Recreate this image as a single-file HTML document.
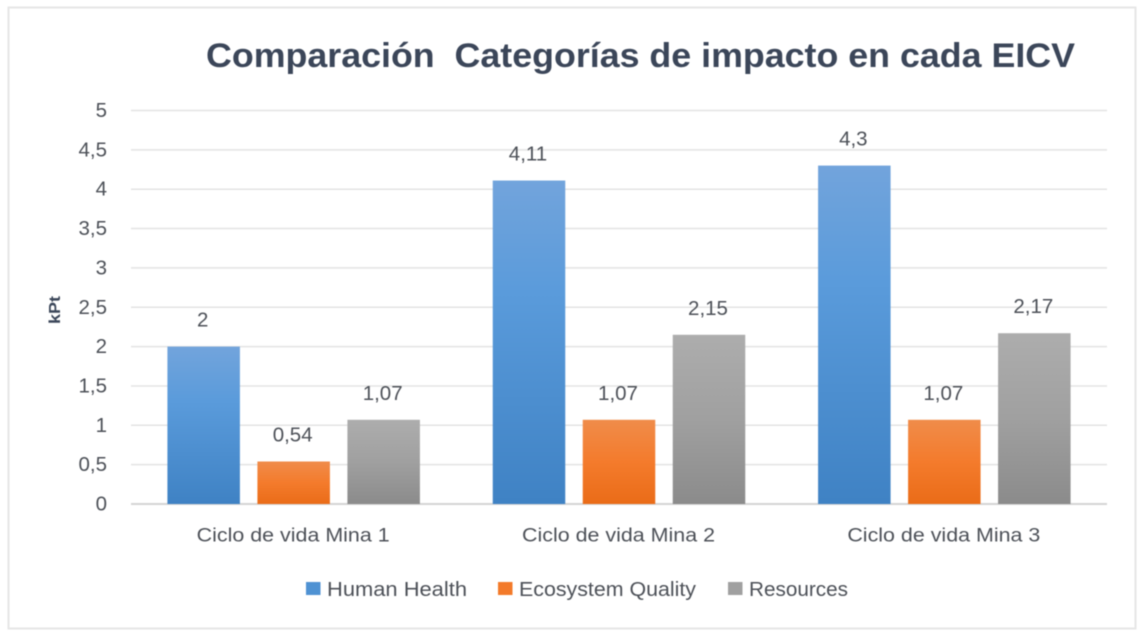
<!DOCTYPE html>
<html lang="es">
<head>
<meta charset="utf-8">
<title>Comparación Categorías de impacto en cada EICV</title>
<style>
html,body{margin:0;padding:0;background:#fff;width:1144px;height:634px;overflow:hidden}
svg{display:block;filter:blur(.6px)}
text{font-family:"Liberation Sans",sans-serif}
</style>
</head>
<body>
<svg id="chart" width="1144" height="634" viewBox="0 0 1144 634" xmlns="http://www.w3.org/2000/svg">
  <defs>
    <linearGradient id="grad-blue" x1="0" y1="0" x2="0" y2="1">
      <stop offset="0" stop-color="#72a4dc"/><stop offset=".35" stop-color="#5a9bdb"/><stop offset="1" stop-color="#3f82c4"/>
    </linearGradient>
    <linearGradient id="grad-orange" x1="0" y1="0" x2="0" y2="1">
      <stop offset="0" stop-color="#f08c4a"/><stop offset=".5" stop-color="#f47b2c"/><stop offset="1" stop-color="#ea6c18"/>
    </linearGradient>
    <linearGradient id="grad-gray" x1="0" y1="0" x2="0" y2="1">
      <stop offset="0" stop-color="#adadad"/><stop offset=".5" stop-color="#a0a0a0"/><stop offset="1" stop-color="#8b8b8b"/>
    </linearGradient>
  </defs>
  <rect x="8.5" y="7.5" width="1127" height="621" fill="#fff" stroke="#e6e6e6" stroke-width="2"/>
  <text x="206" y="67" font-size="34" font-weight="700" fill="#3b4659" textLength="869" lengthAdjust="spacingAndGlyphs" xml:space="preserve">Comparación  Categorías de impacto en cada EICV</text>
  <g id="grid"></g>
  <g id="y-ticks"></g>
  <text transform="translate(60,310) rotate(-90)" text-anchor="middle" font-size="16" font-weight="700" fill="#3b4659" textLength="28" lengthAdjust="spacingAndGlyphs">kPt</text>
  <g id="bars"></g>
  <g id="x-labels"></g>
  <g id="legend"></g>
</svg>
<script>
const categories = ["Ciclo de vida Mina 1", "Ciclo de vida Mina 2", "Ciclo de vida Mina 3"];
const humanHealth = [2, 4.11, 4.3];
const ecosystemQuality = [0.54, 1.07, 1.07];
const resources = [1.07, 2.15, 2.17];
const humanHealthLabels = ["2", "4,11", "4,3"];
const ecosystemQualityLabels = ["0,54", "1,07", "1,07"];
const resourcesLabels = ["1,07", "2,15", "2,17"];
const yTicks = [0, 0.5, 1, 1.5, 2, 2.5, 3, 3.5, 4, 4.5, 5];
const yTickLabels = ["0", "0,5", "1", "1,5", "2", "2,5", "3", "3,5", "4", "4,5", "5"];
const seriesNames = ["Human Health", "Ecosystem Quality", "Resources"];

const NS = "http://www.w3.org/2000/svg";
const plotLeft = 131, plotRight = 1107, plotTop = 110.5, plotBottom = 504, yMax = 5;
const barWidth = 72.5, barStep = 90;
const fills = ["url(#grad-blue)", "url(#grad-orange)", "url(#grad-gray)"];
const swatches = ["#4f92d3", "#f37a2a", "#a0a0a0"];
const series = [humanHealth, ecosystemQuality, resources];
const seriesLabels = [humanHealthLabels, ecosystemQualityLabels, resourcesLabels];
const textColor = "#4d5158";

function yScale(v) { return plotBottom - (v / yMax) * (plotBottom - plotTop); }
function xCenter(i) { return plotLeft + (plotRight - plotLeft) / categories.length * (i + 0.5); }
function make(tag, attrs, parent, content) {
  const el = document.createElementNS(NS, tag);
  for (const k in attrs) el.setAttribute(k, attrs[k]);
  if (content !== undefined) el.textContent = content;
  parent.appendChild(el);
  return el;
}

const gridGroup = document.getElementById("grid");
const tickGroup = document.getElementById("y-ticks");
yTicks.forEach(function (t, i) {
  const y = yScale(t);
  const line = make("line", { x1: plotLeft, x2: plotRight, y1: y, y2: y, stroke: t === 0 ? "#d4d4d4" : "#e3e3e3", "stroke-width": t === 0 ? 2 : 1.5 }, gridGroup);
  
  
  const label = make("text", { x: 107, y: y + 6.5, "text-anchor": "end", "font-size": 20.5, fill: textColor }, tickGroup, yTickLabels[i]);
  
  
});

const barGroup = document.getElementById("bars");
series.forEach(function (values, s) {
  values.forEach(function (v, c) {
    const cx = xCenter(c) + (s - 1) * barStep;
    const y = yScale(v);
    const bar = make("rect", { x: cx - barWidth / 2, y: y, width: barWidth, height: plotBottom - y, fill: fills[s] }, barGroup);
    
    
    const val = make("text", { x: cx - 1, y: y - 20, "text-anchor": "middle", "font-size": 20.5, fill: textColor }, barGroup, seriesLabels[s][c]);
    
    
  });
});

const xGroup = document.getElementById("x-labels");
categories.forEach(function (name, i) {
  const label = make("text", { x: xCenter(i) - 0.5, y: 541.5, "text-anchor": "middle", "font-size": 19, fill: textColor, textLength: 193, lengthAdjust: "spacingAndGlyphs" }, xGroup, name);
  
  
});

const legendGroup = document.getElementById("legend");
const legendSwatchX = [306, 498, 728];
const legendTextX = [327, 519, 749];
const legendTextWidths = [140, 177, 99];
seriesNames.forEach(function (name, i) {
  const swatch = make("rect", { x: legendSwatchX[i], y: 582, width: 14.5, height: 13, fill: swatches[i] }, legendGroup);
  
  
  const label = make("text", { x: legendTextX[i], y: 596, "font-size": 20, fill: textColor, textLength: legendTextWidths[i], lengthAdjust: "spacingAndGlyphs" }, legendGroup, name);
  
  
});
</script>
</body>
</html>
